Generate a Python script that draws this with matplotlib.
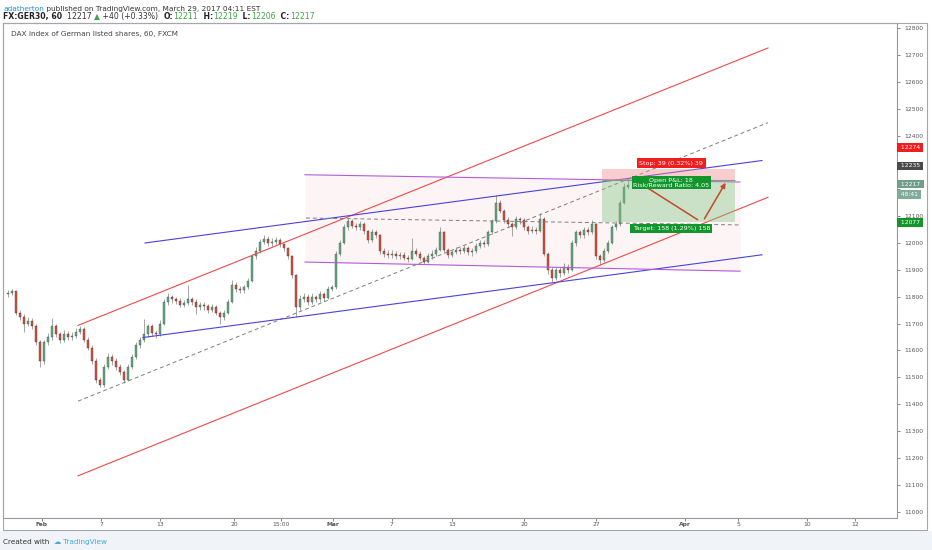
import numpy as np
import matplotlib
matplotlib.use('Agg')
import matplotlib.pyplot as plt
from matplotlib.patches import Rectangle, FancyArrowPatch

W, H = 932, 550

first_open = 11810
closes = [11815, 11820, 11740, 11725, 11700, 11710, 11690, 11630, 11560, 11630,
          11650, 11690, 11660, 11640, 11660, 11650, 11655, 11670, 11680, 11640,
          11610, 11560, 11490, 11470, 11540, 11575, 11560, 11540, 11520, 11490,
          11540, 11575, 11620, 11640, 11660, 11690, 11665, 11660, 11700, 11780,
          11800, 11790, 11785, 11770, 11775, 11790, 11780, 11760, 11770, 11765,
          11750, 11760, 11740, 11725, 11740, 11780, 11845, 11830, 11825, 11835,
          11860, 11950, 11970, 12005, 12015, 12000, 12005, 12010, 11995, 11980,
          11950, 11880, 11760, 11790, 11800, 11780, 11800, 11790, 11810, 11795,
          11830, 11835, 11960, 12000, 12060, 12080, 12065, 12060, 12070, 12045,
          12010, 12040, 12030, 11970, 11960, 11955, 11960, 11950, 11955, 11945,
          11940, 11970, 11960, 11945, 11930, 11950, 11960, 11975, 12040, 11975,
          11955, 11965, 11975, 11970, 11980, 11965, 11970, 11990, 12000, 11995,
          12040, 12080, 12150, 12120, 12085, 12070, 12060, 12090, 12085, 12060,
          12045, 12050, 12045, 12090, 11960, 11900, 11870, 11900, 11890, 11910,
          11900, 12000, 12040, 12030, 12050, 12040, 12070, 11950, 11935, 11970,
          12000, 12060, 12070, 12150, 12210, 12217]
highs = [11825, 11828, 11822, 11750, 11735, 11725, 11720, 11700, 11640, 11640,
         11665, 11722, 11700, 11670, 11675, 11672, 11668, 11682, 11692, 11688,
         11650, 11620, 11570, 11500, 11550, 11590, 11585, 11570, 11550, 11528,
         11550, 11585, 11630, 11650, 11718, 11700, 11698, 11675, 11712, 11790,
         11812, 11808, 11800, 11795, 11788, 11845, 11800, 11790, 11782, 11780,
         11772, 11772, 11768, 11748, 11752, 11790, 11863, 11855, 11840, 11845,
         11870, 11960, 11985, 12015, 12030, 12025, 12018, 12022, 12018, 12000,
         11985, 11955, 11885, 11805, 11815, 11810, 11812, 11808, 11822, 11818,
         11840, 11845, 11970, 12010, 12070, 12093, 12088, 12075, 12082, 12078,
         12050, 12052, 12050, 12035, 11980, 11972, 11975, 11970, 11968, 11965,
         11955, 12018, 11982, 11970, 11952, 11962, 11972, 11985, 12060, 12045,
         11980, 11975, 11985, 11985, 11992, 11988, 11980, 12000, 12012, 12010,
         12050, 12090, 12178, 12160, 12128, 12095, 12078, 12100, 12098, 12092,
         12068, 12062, 12060, 12110, 12095, 11968, 11910, 11912, 11910, 11925,
         11920, 12010, 12050, 12048, 12060, 12058, 12085, 12075, 11960, 11980,
         12010, 12068, 12082, 12160, 12222, 12235]
lows = [11800, 11805, 11730, 11712, 11670, 11690, 11680, 11620, 11540, 11550,
        11620, 11640, 11650, 11628, 11632, 11640, 11638, 11645, 11660, 11630,
        11600, 11550, 11478, 11462, 11465, 11530, 11545, 11528, 11508, 11478,
        11485, 11530, 11568, 11610, 11632, 11650, 11655, 11645, 11652, 11695,
        11770, 11778, 11772, 11760, 11762, 11768, 11768, 11735, 11750, 11752,
        11740, 11742, 11730, 11700, 11715, 11735, 11775, 11818, 11815, 11815,
        11828, 11855, 11940, 11962, 11995, 11990, 11990, 11995, 11985, 11970,
        11940, 11870, 11726, 11750, 11780, 11770, 11772, 11780, 11782, 11785,
        11790, 11820, 11830, 11950, 11995, 12050, 12055, 12048, 12050, 12035,
        12000, 12005, 12020, 11960, 11948, 11945, 11945, 11940, 11942, 11935,
        11928, 11935, 11950, 11935, 11922, 11925, 11942, 11952, 11970, 11965,
        11945, 11948, 11958, 11960, 11962, 11955, 11950, 11962, 11982, 11985,
        11990, 12035, 12075, 12110, 12075, 12058, 12025, 12052, 12072, 12050,
        12035, 12038, 12035, 12040, 11950, 11885, 11855, 11862, 11875, 11880,
        11888, 11895, 11990, 12018, 12020, 12030, 12035, 11940, 11918, 11928,
        11962, 11995, 12050, 12065, 12145, 12200]

tick_pos = [8.5, 23.25, 38, 56.5, 68.25, 81.25, 96, 111, 129, 147, 169.25, 182.5, 199.75, 211.75]
tick_lab = ['Feb', '7', '13', '20', '15:00', 'Mar', '7', '13', '20', '27', 'Apr', '5', '10', '12']
price_ticks = list(range(11000, 12900, 100))
hidden_ticks = [12200, 12300]  # covered by the price scale labels

# drawings: [x0, price0, x1, price1]
red_upper = [17.5, 11693, 190, 12726]
red_lower = [17.5, 11133, 190, 12170]
mid_dash = [17.5, 11411, 190, 12448]
blue_upper = [34.25, 12000, 188.5, 12307]
blue_lower = [33.75, 11648, 188.5, 11956]
purple_upper = [74.25, 12254, 183, 12227]
purple_lower = [74.25, 11929, 183, 11895]
flat_dash = [74.5, 12093, 183, 12067]

# short position
stop_price = 12274
entry_price = 12235
target_price = 12077
last_price = 12217
pos_x = [148.5, 181.75]
arrow1 = [159.25, 12211, 173, 12081]
arrow2 = [173.75, 12081, 179.75, 12233]

fig = plt.figure(figsize=(W / 100, H / 100), dpi=100)
fig.patch.set_facecolor('white')
ax = fig.add_axes([3 / W, 1 - 518 / H, (897 - 3) / W, (518 - 23) / H])
ax.set_xlim(-1.25, 222.25)
ax.set_ylim(10976, 12819)

# footer band and widget frame
fig.add_artist(Rectangle((0, 0), 1, 1 - 531 / H, transform=fig.transFigure,
                         facecolor='#f0f3f7', edgecolor='none', zorder=0))
fig.add_artist(Rectangle((3 / W, 1 - 530 / H), (927 - 3) / W, (530 - 23) / H,
                         transform=fig.transFigure, facecolor='none',
                         edgecolor='#a3a6ad', lw=0.8, zorder=1))

# faint pink zone between purple lines
ax.fill_between([purple_upper[0], purple_upper[2]], [purple_lower[1], purple_lower[3]],
                [purple_upper[1], purple_upper[3]], color='#fdf5f5', lw=0, zorder=1)

# candles
c = np.array(closes, float)
o = np.r_[first_open, c[:-1]]
idx = np.arange(len(c))
up = c >= o
ax.vlines(idx, lows, highs, color='#737375', lw=0.45, zorder=3)
body = np.maximum(np.abs(c - o), 3)
ax.bar(idx[up], body[up], bottom=o[up], width=0.5, color='#6ba583',
       edgecolor='#225437', lw=0.25, zorder=4)
ax.bar(idx[~up], body[~up], bottom=c[~up], width=0.5, color='#d75442',
       edgecolor='#5b1a13', lw=0.25, zorder=4)

def seg(d, color, ls='-', lw=0.8):
    ax.plot([d[0], d[2]], [d[1], d[3]], color=color, ls=ls, lw=lw, zorder=5)

seg(red_upper, '#f04a4a')
seg(red_lower, '#f04a4a')
seg(mid_dash, '#7d7d7d', ls=(0, (4, 3)), lw=0.7)
seg(blue_upper, '#4a42d9')
seg(blue_lower, '#4a42d9')
seg(purple_upper, '#b45ad8')
seg(purple_lower, '#b45ad8')
seg(flat_dash, '#7d7d7d', ls=(0, (4, 3)), lw=0.7)

# position box
pw = pos_x[1] - pos_x[0]
ax.add_patch(Rectangle((pos_x[0], entry_price), pw, stop_price - entry_price,
                       facecolor='#ef9090', alpha=0.45, lw=0, zorder=6))
ax.add_patch(Rectangle((pos_x[0], target_price), pw, entry_price - target_price,
                       facecolor='#7fc383', alpha=0.4, lw=0, zorder=6))
ax.hlines(entry_price, pos_x[0], pos_x[1], color='#8a968a', lw=0.8, zorder=6)
for a, head in [(arrow1, '-'), (arrow2, '-|>')]:
    ax.add_patch(FancyArrowPatch((a[0], a[1]), (a[2], a[3]), arrowstyle=head,
                                 mutation_scale=7, color='#c24a25', lw=1.1, zorder=7))

cx = (pos_x[0] + pos_x[1]) / 2 + 0.7
lab = dict(fontsize=4.6, color='white', ha='center', va='center', zorder=9,
           textcoords='offset points', annotation_clip=False)
ax.annotate('Stop: 39 (0.32%) 39', (cx, stop_price), xytext=(0, 4.5),
            bbox=dict(boxstyle='square,pad=0.35', fc='#f01e1e', ec='none'), **lab)
ax.annotate('Open P&L: 18\nRisk/Reward Ratio: 4.05', (cx, entry_price), xytext=(0, -2.2),
            linespacing=0.95,
            bbox=dict(boxstyle='square,pad=0.25', fc='#12962c', ec='none'), **lab)
ax.annotate('Target: 158 (1.29%) 158', (cx, target_price), xytext=(0, -4.3),
            bbox=dict(boxstyle='square,pad=0.35', fc='#12962c', ec='none'), **lab)

# axes styling
for s in ax.spines.values():
    s.set_color('#9598a1')
    s.set_linewidth(0.8)
ax.yaxis.tick_right()
ax.set_yticks(price_ticks)
ax.set_yticklabels(['' if p in hidden_ticks else str(p) for p in price_ticks])
ax.tick_params(axis='y', length=2.5, width=0.5, pad=2.5, labelsize=4.3,
               colors='#555555')
ax.set_xticks(tick_pos)
ax.set_xticklabels(tick_lab)
ax.tick_params(axis='x', length=2, width=0.5, pad=1.0, labelsize=4.3,
               colors='#555555')
for t in ax.get_xticklabels():
    if t.get_text() in ('Feb', 'Mar', 'Apr'):
        t.set_fontweight('bold')

# price scale labels
def scale_label(price, text, fc, dy_px):
    ax.annotate(' ' + text + ' ', (1, price), xycoords=('axes fraction', 'data'),
                xytext=(1.2, dy_px * 0.72), textcoords='offset points',
                ha='left', va='center', fontsize=4.3, color='white', zorder=10,
                annotation_clip=False,
                bbox=dict(boxstyle='square,pad=0.3', fc=fc, ec='none'))

scale_label(stop_price, '12274', '#f51c1c', 22)
scale_label(entry_price, '12235', '#4b4b4b', 14)
scale_label(last_price, '12217', '#6f9e8b', 0.5)
scale_label(last_price, '48:41', '#80ad9b', -10)
scale_label(target_price, '12077', '#12962c', 0)

ax.text(8 / 894, 1 - 11 / 495, 'DAX index of German listed shares, 60, FXCM',
        transform=ax.transAxes, fontsize=5.3, color='#444444', va='center')

# header and footer pieces
def chain(parts, x, y, size):
    prev = None
    for s, color, weight in parts:
        kw = dict(fontsize=size, color=color, fontweight=weight, va='bottom')
        if prev is None:
            prev = fig.text(x, y, s, **kw)
        else:
            prev = ax.annotate(s, xy=(1, 0), xycoords=prev, annotation_clip=False, **kw)

green = '#3ea845'
chain([('adatherton', '#2a8dd4', 'normal'),
       (' published on TradingView.com, March 29, 2017 04:11 EST', '#333333', 'normal')],
      3 / W, 1 - 12 / H, 5.35)
chain([('FX:GER30, 60', '#222222', 'bold'), ('  12217 ', '#333333', 'normal'),
       ('\u25b2', green, 'normal'), (' +40 (+0.33%)  ', '#333333', 'normal'),
       ('O:', '#222222', 'bold'), ('12211', green, 'normal'),
       ('  H:', '#222222', 'bold'), ('12219', green, 'normal'),
       ('  L:', '#222222', 'bold'), ('12206', green, 'normal'),
       ('  C:', '#222222', 'bold'), ('12217', green, 'normal')],
      3 / W, 1 - 21 / H, 5.6)
chain([('Created with  ', '#333333', 'normal'), ('\u2601', '#4aa6da', 'normal'),
       (' TradingView', '#45a8de', 'normal')],
      3 / W, 1 - 545 / H, 5.2)

fig.savefig('out.png', dpi=100, facecolor=fig.get_facecolor())
